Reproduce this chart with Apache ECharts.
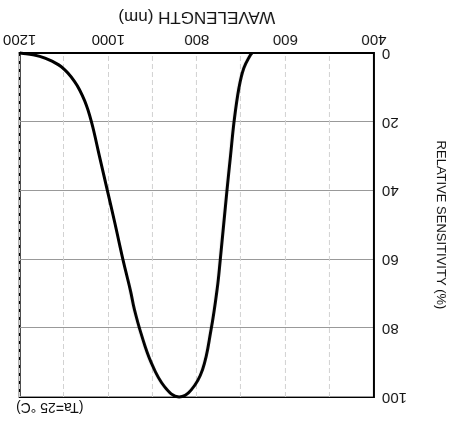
<!DOCTYPE html>
<html>
<head>
<meta charset="utf-8">
<script src="https://cdn.jsdelivr.net/npm/echarts@6/dist/echarts.min.js"></script>
<style>
  html, body { margin: 0; padding: 0; background: #fff; }
  #chart { width: 474px; height: 423px; transform: rotate(180deg); transform-origin: 50% 50%; }
</style>
</head>
<body>
<div id="chart"></div>
<script>
// Wavelength (nm) and relative sensitivity (%)
const wavelengths = [675, 679, 694, 705, 716, 724, 732, 747, 754, 768, 787, 813, 840, 873, 903, 926, 941, 950, 967, 985, 1002, 1020, 1038, 1053, 1076, 1106, 1143, 1170, 1196, 1200];
const sensitivity = [0, 0.6, 4.4, 10.2, 20, 30, 40, 60, 68.5, 80.5, 92, 98, 100, 97, 90, 81.5, 74.5, 69, 60, 49.5, 40, 30, 20, 14, 8.3, 4.0, 1.5, 0.5, 0.1, 0];
const xTicks = [400, 600, 800, 1000, 1200];
const yTicks = [0, 20, 40, 60, 80, 100];
const xName = 'WAVELENGTH (nm)';
const yName = 'RELATIVE SENSITIVITY (%)';
const note = '(Ta=25 °C)';

const chart = echarts.init(document.getElementById('chart'), null, { renderer: 'canvas' });
const font = 'Liberation Sans, Arial, Helvetica, sans-serif';
chart.setOption({
  animation: false,
  backgroundColor: '#fff',
  grid: { left: 100, right: 18, top: 26, bottom: 53, show: true, borderColor: '#000', borderWidth: 2, backgroundColor: 'transparent' },
  xAxis: {
    type: 'value', min: xTicks[0], max: xTicks[xTicks.length - 1], interval: 200,
    name: xName, nameLocation: 'middle', nameGap: 28,
    nameTextStyle: { fontSize: 17, color: '#111', fontFamily: font },
    axisLine: { show: true, lineStyle: { color: '#000', width: 2 } },
    axisTick: { show: false },
    axisLabel: { fontSize: 15, color: '#111', fontFamily: font, margin: 6, formatter: v => String(v) },
    splitLine: { show: true, lineStyle: { color: '#d2d2d2', width: 1, type: [5, 3] } },
    minorTick: { show: false, splitNumber: 2 },
    minorSplitLine: { show: true, lineStyle: { color: '#d2d2d2', width: 1, type: [5, 3] } }
  },
  yAxis: {
    type: 'value', min: yTicks[0], max: yTicks[yTicks.length - 1], interval: 20,
    name: yName, nameLocation: 'middle', nameGap: 60,
    nameTextStyle: { fontSize: 13, color: '#111', fontFamily: font },
    axisLine: { show: true, lineStyle: { color: '#000', width: 2 } },
    axisTick: { show: false },
    axisLabel: { fontSize: 15, color: '#111', fontFamily: font, margin: 8, formatter: v => String(v) },
    splitLine: { show: true, lineStyle: { color: '#999', width: 1 } }
  },
  graphic: [{
    type: 'text', right: 16, top: 9,
    style: { text: note, font: '14px ' + font, fill: '#111' }
  }],
  series: [{
    type: 'line',
    data: wavelengths.map((w, i) => [w, sensitivity[i]]),
    smooth: 0.4,
    showSymbol: false,
    lineStyle: { color: '#000', width: 3 },
    clip: false
  }]
});
</script>
</body>
</html>
